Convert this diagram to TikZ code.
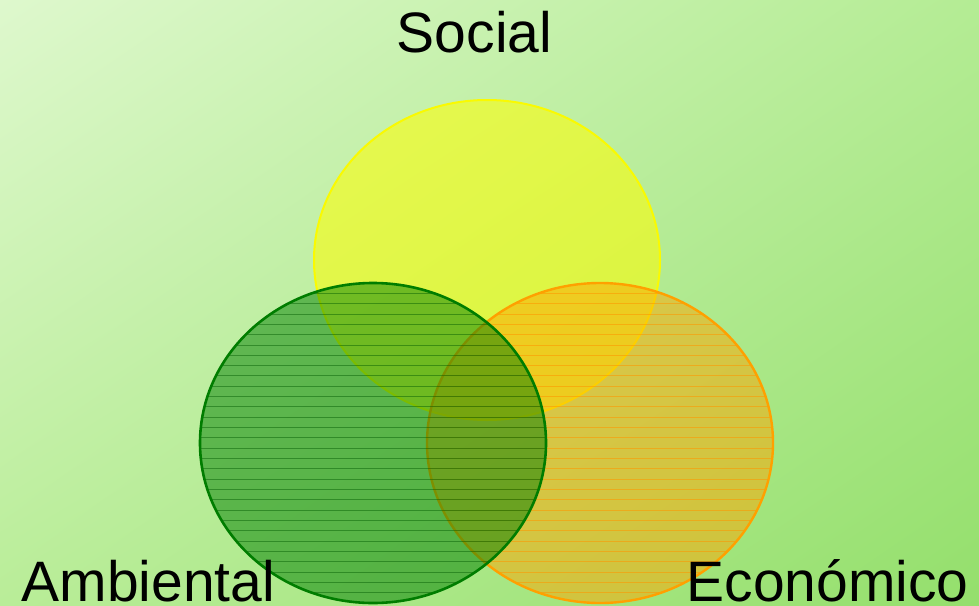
\documentclass[tikz,border=0pt]{standalone}
\usepackage{fontspec}
\setmainfont{Liberation Sans}
\usetikzlibrary{shadings}
\definecolor{bgUL}{RGB}{222,248,205}
\definecolor{bgUR}{RGB}{180,236,148}
\definecolor{bgLL}{RGB}{185,237,152}
\definecolor{bgLR}{RGB}{148,223,108}
\definecolor{socialfill}{RGB}{255,255,0}
\definecolor{socialedge}{RGB}{250,250,0}
\definecolor{ambfill}{RGB}{0,128,0}
\definecolor{ambedge}{RGB}{0,125,0}
\definecolor{ambline}{RGB}{0,90,0}
\definecolor{ecofill}{RGB}{255,165,0}
\definecolor{ecoedge}{RGB}{255,160,0}
\definecolor{ecoline}{RGB}{255,150,0}
\tikzset{
  label text/.style={font=\fontsize{57}{60}\selectfont, text=black, inner sep=0pt, anchor=base},
  socialcircle/.style={fill=socialfill, fill opacity=0.55, draw=socialedge, draw opacity=1, line width=2pt},
  ambcircle/.style={fill=ambfill, fill opacity=0.5},
  ambborder/.style={draw=ambedge, line width=2.6pt},
  ambhatch/.style={draw=ambline, line width=0.9pt, draw opacity=0.45},
  ecocircle/.style={fill=ecofill, fill opacity=0.5},
  ecoborder/.style={draw=ecoedge, line width=2.4pt},
  ecohatch/.style={draw=ecoline, line width=0.9pt, draw opacity=0.55},
}
\begin{document}
\begin{tikzpicture}[x=1pt,y=-1pt]
\useasboundingbox (0,0) rectangle (979,605);
\shade[upper left=bgUL, upper right=bgUR, lower left=bgLL, lower right=bgLR] (0,0) rectangle (979,605);

% Social
\path[socialcircle] (487,260) ellipse [x radius=173, y radius=160];

% Economico
\path[ecocircle] (600,443) ellipse [x radius=173, y radius=160];
\begin{scope}
  \clip (600,443) ellipse [x radius=173, y radius=160];
  \foreach \k in {0,...,31} {
    \draw[ecohatch] (420,293.3+10.33*\k) -- (780,293.3+10.33*\k);
  }
\end{scope}
\draw[ecoborder] (600,443) ellipse [x radius=173, y radius=160];

% Ambiental
\path[ambcircle] (373,443) ellipse [x radius=173, y radius=160];
\begin{scope}
  \clip (373,443) ellipse [x radius=173, y radius=160];
  \foreach \k in {0,...,31} {
    \draw[ambhatch] (195,293.3+10.33*\k) -- (550,293.3+10.33*\k);
  }
\end{scope}
\draw[ambborder] (373,443) ellipse [x radius=173, y radius=160];

% Labels
\node[label text] (social) at (474.5,52) {Social};
\node[label text] (ambiental) at (148.5,601) {Ambiental};
\node[label text] (economico) at (827.5,601) {Económico};
\end{tikzpicture}
\end{document}
